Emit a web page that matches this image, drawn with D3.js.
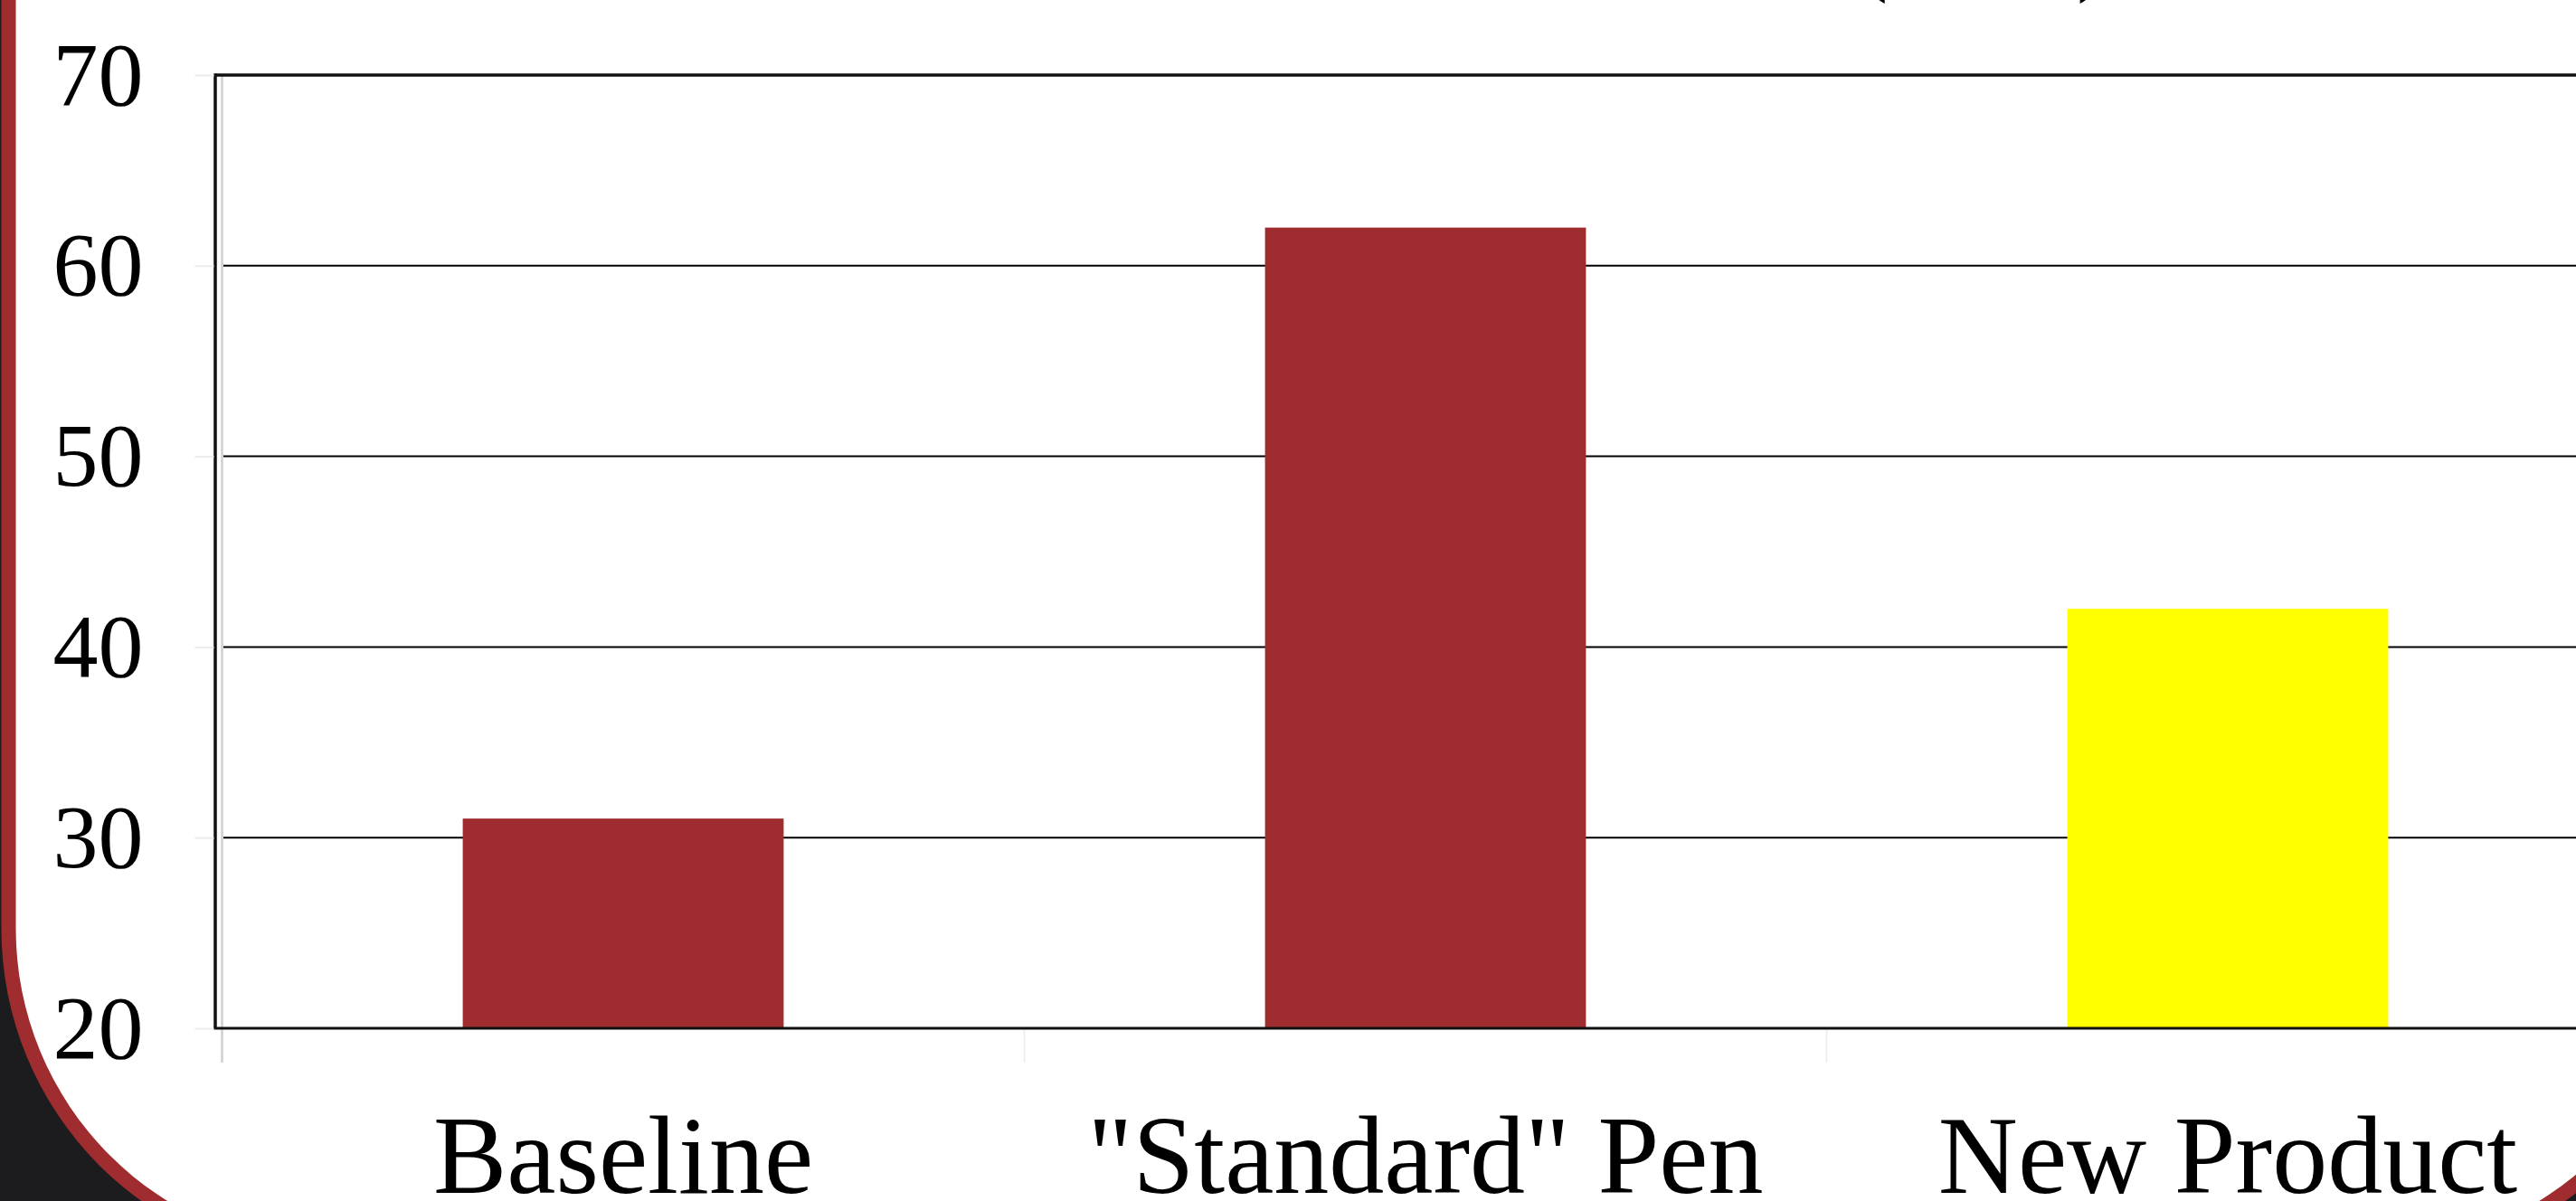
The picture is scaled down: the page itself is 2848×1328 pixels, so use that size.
<!DOCTYPE html>
<html>
<head>
<meta charset="utf-8">
<script src="https://cdn.jsdelivr.net/npm/d3@7"></script>
<style>
  html, body { margin: 0; padding: 0; background: #1c1c1e; overflow: hidden; }
  svg { display: block; }
  text { font-family: "Liberation Serif", "Times New Roman", serif; fill: #000; }
</style>
</head>
<body>
<script>
// Chart data
const categories = ["Baseline", "\"Standard\" Pen", "New Product"];
const values = [31, 62, 42];
const barColors = ["#9f2d2f", "#9f2d2f", "#ffff00"];
const yTicks = [20, 30, 40, 50, 60, 70];
const titleText = "Words Per Minute (WPM)";

const W = 2848, H = 1328;
const svg = d3.select("body").append("svg")
  .attr("width", W).attr("height", H);

// Slide card: dark surround, red rim, white face with large rounded corners
svg.append("rect").attr("width", W).attr("height", H).attr("fill", "#1c1c1e");
svg.append("rect")
  .attr("x", 1.5).attr("y", -1200)
  .attr("width", 2989.5).attr("height", 2597)
  .attr("rx", 370).attr("fill", "#9f2d2f");
svg.append("rect")
  .attr("x", 17.5).attr("y", -1184)
  .attr("width", 2957.5).attr("height", 2565)
  .attr("rx", 354).attr("fill", "#ffffff");

// Title (sits mostly above the visible area)
svg.append("text")
  .attr("x", 2326).attr("y", -15)
  .attr("text-anchor", "end")
  .attr("font-size", 88)
  .text(titleText);

// Plot geometry
const plot = { left: 238, top: 83, bottom: 1137, right: 2910 };
const bandStart = 245.5, bandStep = 887;

const y = d3.scaleLinear()
  .domain([d3.min(yTicks), d3.max(yTicks)])
  .range([plot.bottom, plot.top]);

const xb = d3.scaleBand()
  .domain(categories)
  .range([bandStart, bandStart + bandStep * categories.length])
  .paddingInner(0.6)
  .paddingOuter(0.3);

// Horizontal gridlines
svg.append("g")
  .selectAll("line")
  .data(yTicks.filter(t => t > y.domain()[0] && t < y.domain()[1]))
  .join("line")
  .attr("x1", 247).attr("x2", plot.right)
  .attr("y1", d => y(d)).attr("y2", d => y(d))
  .attr("stroke", "#000").attr("stroke-width", 2);

// Bars
svg.append("g")
  .selectAll("rect")
  .data(categories.map((c, i) => ({ c, v: values[i], color: barColors[i] })))
  .join("rect")
  .attr("x", d => xb(d.c))
  .attr("width", xb.bandwidth())
  .attr("y", d => y(d.v))
  .attr("height", d => y(y.domain()[0]) - y(d.v))
  .attr("fill", d => d.color);

// Category boundary ticks (light grey)
const step = xb.step();
const boundaries = d3.range(categories.length).map(i => bandStart + i * step);
svg.append("line")
  .attr("x1", boundaries[0]).attr("x2", boundaries[0])
  .attr("y1", plot.top).attr("y2", 1175)
  .attr("stroke", "#cfcfcf").attr("stroke-width", 2.5);
svg.append("g")
  .selectAll("line")
  .data(boundaries.slice(1))
  .join("line")
  .attr("x1", d => d).attr("x2", d => d)
  .attr("y1", plot.bottom + 2).attr("y2", 1175)
  .attr("stroke", "#ebebeb").attr("stroke-width", 1.5);

// Plot frame
svg.append("line")
  .attr("x1", plot.left).attr("x2", plot.right)
  .attr("y1", plot.top).attr("y2", plot.top)
  .attr("stroke", "#111").attr("stroke-width", 3.5);
svg.append("line")
  .attr("x1", plot.left).attr("x2", plot.left)
  .attr("y1", plot.top - 1.75).attr("y2", plot.bottom)
  .attr("stroke", "#111").attr("stroke-width", 3.5);
svg.append("line")
  .attr("x1", plot.left - 1.75).attr("x2", plot.right)
  .attr("y1", plot.bottom).attr("y2", plot.bottom)
  .attr("stroke", "#111").attr("stroke-width", 3);

// Y axis: faint ticks and value labels
const yAxis = svg.append("g")
  .attr("transform", `translate(${plot.left - 1.5},0)`)
  .call(d3.axisLeft(y).tickValues(yTicks).tickSize(21).tickPadding(57).tickFormat(d3.format("d")));
yAxis.select(".domain").remove();
yAxis.selectAll(".tick line").attr("stroke", "#ebebeb").attr("stroke-width", 2);
yAxis.selectAll(".tick text")
  .attr("font-size", 100)
  .attr("font-family", "Liberation Serif, serif")
  .attr("fill", "#000");

// Category labels
svg.append("g")
  .selectAll("text")
  .data(categories)
  .join("text")
  .attr("x", d => xb(d) + xb.bandwidth() / 2)
  .attr("y", 1319)
  .attr("text-anchor", "middle")
  .attr("font-size", 122)
  .text(d => d);
</script>
</body>
</html>
